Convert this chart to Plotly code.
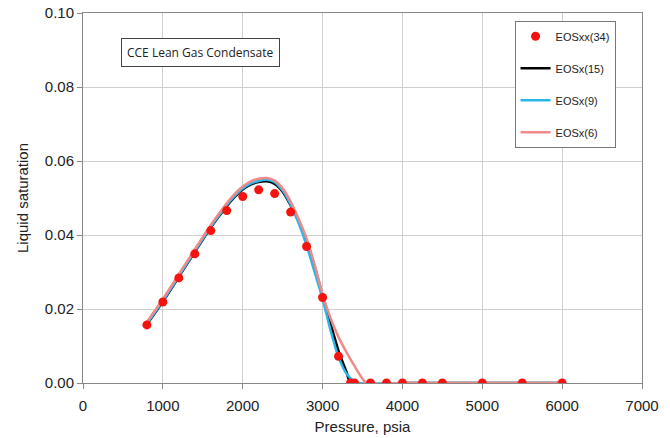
import plotly.graph_objects as go

# Lab CCE measurements (34-component EOS reference points)
p_meas = [800, 1000, 1200, 1400, 1600, 1800, 2000, 2200, 2400, 2600, 2800, 3000,
          3200, 3350, 3400, 3600, 3800, 4000, 4250, 4500, 5000, 5500, 6000]
s_meas = [0.0157, 0.0219, 0.0284, 0.0349, 0.0412, 0.0466, 0.0504, 0.0522, 0.0512,
          0.0462, 0.0369, 0.0231, 0.0072, 0.0, 0.0, 0.0, 0.0, 0.0, 0.0, 0.0,
          0.0, 0.0, 0.0]

# Lumped EOS model curves
p_15 = [800, 1000, 1200, 1400, 1600, 1700, 1800, 1900, 2000, 2100, 2200, 2300,
        2400, 2500, 2600, 2700, 2800, 2900, 3000, 3100, 3200, 3300, 3355,
        4000, 5000, 6000]
s_15 = [0.0158, 0.0220, 0.0287, 0.0354, 0.0420, 0.0450, 0.0478, 0.0503, 0.0523,
        0.0536, 0.0543, 0.0545, 0.0538, 0.0517, 0.0480, 0.0437, 0.0385, 0.0315,
        0.0235, 0.0160, 0.0087, 0.0030, 0.0, 0.0, 0.0, 0.0]

p_9 = [800, 1000, 1200, 1400, 1600, 1700, 1800, 1900, 2000, 2100, 2200, 2300,
       2400, 2500, 2600, 2700, 2800, 2900, 3000, 3100, 3200, 3300, 3400, 3440,
       4000, 5000, 6000]
s_9 = [0.0160, 0.0222, 0.0289, 0.0356, 0.0422, 0.0452, 0.0481, 0.0506, 0.0526,
       0.0539, 0.0546, 0.0549, 0.0543, 0.0520, 0.0482, 0.0432, 0.0372, 0.0300,
       0.0228, 0.0142, 0.0070, 0.0025, 0.0004, 0.0, 0.0, 0.0, 0.0]

p_6 = [800, 1000, 1200, 1400, 1600, 1700, 1800, 1900, 2000, 2100, 2200, 2300,
       2400, 2500, 2600, 2700, 2800, 2900, 3000, 3100, 3200, 3300, 3400, 3480,
       3550, 4000, 5000, 6000]
s_6 = [0.0165, 0.0227, 0.0294, 0.0361, 0.0427, 0.0457, 0.0486, 0.0511, 0.0531,
       0.0545, 0.0552, 0.0554, 0.0547, 0.0526, 0.0490, 0.0443, 0.0390, 0.0320,
       0.0240, 0.0175, 0.0124, 0.0083, 0.0046, 0.0018, 0.0, 0.0, 0.0, 0.0]

FONT = "Liberation Sans, Arial"

fig = go.Figure()

fig.add_trace(go.Scatter(
    x=p_15, y=s_15, mode="lines", name="EOSx(15)",
    line=dict(color="#000000", width=2.5, shape="spline", smoothing=0.8),
    legendgroup="b", legendrank=2))
fig.add_trace(go.Scatter(
    x=p_9, y=s_9, mode="lines", name="EOSx(9)",
    line=dict(color="#29b6e8", width=2.5, shape="spline", smoothing=0.8),
    legendgroup="c", legendrank=3))
fig.add_trace(go.Scatter(
    x=p_6, y=s_6, mode="lines", name="EOSx(6)",
    line=dict(color="#f08a8a", width=2.5, shape="spline", smoothing=0.8),
    legendgroup="d", legendrank=4))
# measured points drawn last so they sit on top of the curves
fig.add_trace(go.Scatter(
    x=p_meas, y=s_meas, mode="markers", name="EOSxx(34)",
    marker=dict(color="#f5130f", size=9), legendgroup="a", legendrank=1))

axis_common = dict(
    showline=True, linecolor="#888888", linewidth=1, mirror=True,
    showgrid=True, gridcolor="#cfcfcf", gridwidth=1,
    ticks="outside", ticklen=5, tickcolor="#888888",
    zeroline=False, automargin=False,
    tickfont=dict(family=FONT, size=15, color="#222222"),
)

fig.update_layout(
    width=670, height=438,
    margin=dict(l=83, r=28, t=13, b=55),
    paper_bgcolor="white", plot_bgcolor="white",
    xaxis=dict(range=[0, 7000], dtick=1000, ticklabelstandoff=4,
               title=dict(text="Pressure, psia", standoff=8,
                          font=dict(family=FONT, size=15, color="#222222")),
               **axis_common),
    yaxis=dict(range=[0, 0.10], dtick=0.02, tickformat=".2f",
               title=dict(text="Liquid saturation", standoff=12,
                          font=dict(family=FONT, size=15, color="#222222")),
               **axis_common),
    legend=dict(
        x=0.772, y=0.979, xanchor="left", yanchor="top",
        bordercolor="#777777", borderwidth=1, bgcolor="white",
        font=dict(family=FONT, size=11, color="#222222"),
        traceorder="grouped", tracegroupgap=13, itemwidth=30,
    ),
    showlegend=True,
)

fig.add_annotation(
    xref="paper", yref="paper", x=0.2097, y=0.894,
    xanchor="center", yanchor="middle",
    text="CCE Lean Gas Condensate", showarrow=False,
    font=dict(family="Open Sans, Liberation Sans", size=12, color="#222222"),
    bordercolor="#444444", borderwidth=1, borderpad=5, bgcolor="white",
)

fig.write_html("out.html")
